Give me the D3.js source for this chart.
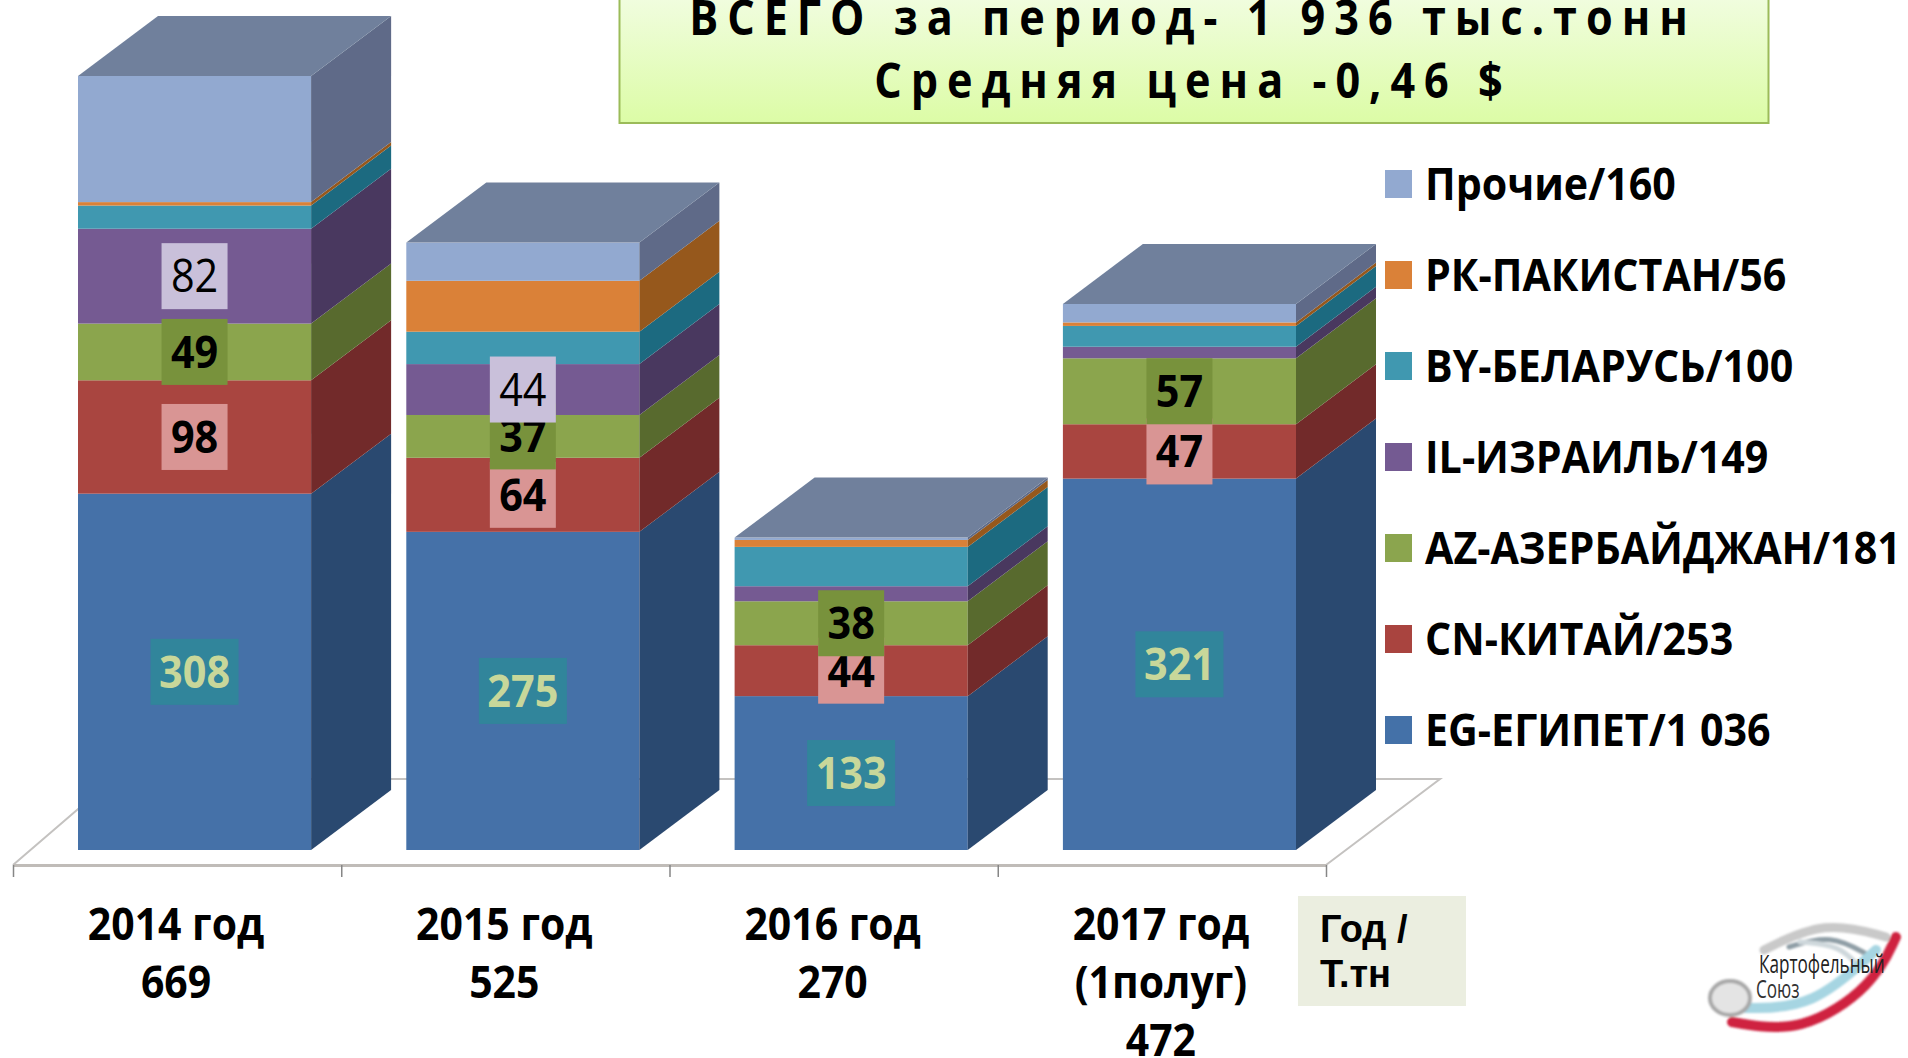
<!DOCTYPE html>
<html>
<head>
<meta charset="utf-8">
<script src="https://cdn.jsdelivr.net/npm/d3@7"></script>
<style>
html, body { margin: 0; padding: 0; background: #fff; overflow: hidden; }
svg { display: block; }
text { font-family: "Open Sans", sans-serif; font-weight: 700; fill: #000; }
</style>
</head>
<body>
<div id="viz"></div>
<script>
let years = ["2014", "2015", "2016", "2017"];
let yearLabels = [
	["2014 год", "669"],
	["2015 год", "525"],
	["2016 год", "270"],
	["2017 год", "(1полуг)", "472"]
];
let seriesNames = ["EG", "CN", "AZ", "IL", "BY", "PK", "OTHER"];
let legendLabels = ["EG-ЕГИПЕТ/1 036", "CN-КИТАЙ/253", "AZ-АЗЕРБАЙДЖАН/181", "IL-ИЗРАИЛЬ/149", "BY-БЕЛАРУСЬ/100", "РК-ПАКИСТАН/56", "Прочие/160"];
let valEG = [308, 275, 133, 321];
let valCN = [98, 64, 44, 47];
let valAZ = [49, 37, 38, 57];
let valIL = [82, 44, 13, 10];
let valBY = [20, 28, 34, 18];
let valPK = [3, 44, 6, 3];
let valOther = [109, 33, 2, 16];
let labelledSeries = ["EG", "CN", "AZ", "IL"];
let titleLines = ["ВСЕГО за период- 1 936 тыс.тонн", "Средняя цена -0,46 $"];
let unitLines = ["Год /", "Т.тн"];

let frontColor = {EG: "#4471a8", CN: "#a9443f", AZ: "#8ba54e", IL: "#745a92", BY: "#4098b0", PK: "#da8138", OTHER: "#92a9d0"};
let sideColor = {EG: "#2c486f", CN: "#722b29", AZ: "#586b2f", IL: "#49375f", BY: "#1f6a80", PK: "#96591f", OTHER: "#5e6b88"};
let boxColor = {EG: "#31859b", CN: "#d99594", AZ: "#78923c", IL: "#c9c0da"};
let boxText = {EG: "#c8d79a", CN: "#000", AZ: "#000", IL: "#000"};

let rows = years.map((y, i) => ({year: y, EG: valEG[i], CN: valCN[i], AZ: valAZ[i], IL: valIL[i], BY: valBY[i], PK: valPK[i], OTHER: valOther[i]}));
let stacked = d3.stack().keys(seriesNames)(rows);

let svg = d3.select("#viz").append("svg").attr("width", 1908).attr("height", 1058);

let defs = svg.append("defs");
let soft = defs.append("filter").attr("id", "soft");
soft.append("feGaussianBlur").attr("stdDeviation", 0.7);
let softer = defs.append("filter").attr("id", "softer");
softer.append("feGaussianBlur").attr("stdDeviation", 1.2);
let grad = defs.append("linearGradient").attr("id", "titleFill").attr("x1", 0).attr("y1", 0).attr("x2", 0).attr("y2", 1);
grad.append("stop").attr("offset", 0).attr("stop-color", "#f1fde0");
grad.append("stop").attr("offset", 1).attr("stop-color", "#dcfca6");

// COMMON
let depthX = 80;
let depthY = 60;
let x = d3.scaleBand().domain(years).range([78, 1296]).paddingInner(0.29);
let y = d3.scaleLinear().domain([0, 669]).range([850, 76]);
let squeeze = 0.92;

function putText(parent, px, py, str, size, anchor, sx, color) {
	return parent.append("text")
		.attr("transform", "translate(" + px + "," + py + ") scale(" + sx + ",1)")
		.attr("text-anchor", anchor)
		.style("font-size", size + "px")
		.style("fill", color || "#000")
		.text(str);
}

// FLOOR
let axisScale = d3.scaleLinear().domain([0, 4]).range([13, 1326]);
let floor = svg.append("g");
floor.append("path")
	.attr("d", "M13,865 L113,779 L1440,779 L1326,865")
	.attr("fill", "none")
	.attr("stroke", "#c4c2c0")
	.attr("stroke-width", 2);

let axis = d3.axisBottom(axisScale).tickValues(d3.range(0, 5)).tickSize(12).tickSizeOuter(0).tickFormat("");
let axisG = svg.append("g").attr("transform", "translate(0,865)").call(axis);
axisG.select(".domain").attr("stroke", "#c0bcb8").attr("stroke-width", 3);
axisG.selectAll(".tick line").attr("stroke", "#868686").attr("stroke-width", 1.5);

// BARS
let bars = svg.append("g").attr("filter", "url(#soft)");
stacked.forEach(layer => {
	let key = layer.key;
	layer.forEach((d, i) => {
		let x0 = x(years[i]);
		let x1 = x0 + x.bandwidth();
		let yb = y(d[0]);
		let yt = y(d[1]);
		bars.append("rect")
			.attr("x", x0).attr("y", yt)
			.attr("width", x.bandwidth()).attr("height", yb - yt)
			.attr("fill", frontColor[key]);
		bars.append("path")
			.attr("d", d3.line()([[x1, yb], [x1 + depthX, yb - depthY], [x1 + depthX, yt - depthY], [x1, yt]]))
			.attr("fill", sideColor[key]);
	});
});
rows.forEach(r => {
	let x0 = x(r.year);
	let x1 = x0 + x.bandwidth();
	let yt = y(d3.sum(seriesNames, k => r[k]));
	bars.append("path")
		.attr("d", d3.line()([[x0, yt], [x0 + depthX, yt - depthY], [x1 + depthX, yt - depthY], [x1, yt]]))
		.attr("fill", "#70809c");
});

// VALUE LABELS
let boxes = svg.append("g");
stacked.filter(l => labelledSeries.includes(l.key)).forEach(layer => {
	layer.forEach((d, i) => {
		let val = d[1] - d[0];
		let cx = x(years[i]) + x.bandwidth() / 2;
		let cy = (y(d[0]) + y(d[1])) / 2;
		let w = val >= 100 ? 88 : 66;
		if (layer.key === "IL" && val < 40) return;
		boxes.append("rect")
			.attr("x", cx - w / 2).attr("y", cy - 33)
			.attr("width", w).attr("height", 66)
			.attr("fill", boxColor[layer.key]);
		let t = putText(boxes, cx, cy + 16, val, 45, "middle", squeeze, boxText[layer.key]);
		if (layer.key === "IL") t.style("font-weight", 400);
	});
});

// CATEGORY LABELS
yearLabels.forEach((lines, i) => {
	let cx = x(years[i]) + 98;
	lines.forEach((s, j) => putText(svg, cx, 940 + j * 58, s, 45, "middle", 0.91));
});

// TITLE
svg.append("rect")
	.attr("x", 619.5).attr("y", -5)
	.attr("width", 1149).attr("height", 128)
	.attr("fill", "url(#titleFill)")
	.attr("stroke", "#9bbb59")
	.attr("stroke-width", 2);
titleLines.forEach((s, j) => {
	putText(svg, 1193, 35 + j * 63, s, 48, "middle", 0.9)
		.style("letter-spacing", "10px");
});

// LEGEND
let legY = d3.scalePoint().domain(seriesNames).range([730, 184]);
seriesNames.forEach((k, i) => {
	svg.append("rect")
		.attr("x", 1385).attr("y", legY(k) - 14)
		.attr("width", 27).attr("height", 28)
		.attr("fill", frontColor[k]);
	putText(svg, 1425, legY(k) + 16, legendLabels[i], 45, "start", 0.915);
});

// UNIT BOX
svg.append("rect")
	.attr("x", 1298).attr("y", 896)
	.attr("width", 168).attr("height", 110)
	.attr("fill", "#ebeee0");
unitLines.forEach((s, j) => {
	putText(svg, 1320, 942 + j * 45, s, 38, "start", 1).style("font-family", "'Liberation Sans'");
});

// LOGO
let logoCurve = d3.line().curve(d3.curveBasis);
let logo = svg.append("g").attr("filter", "url(#softer)");
let logoBands = [
	{color: "#c9c9c9", width: 9, pts: [[1764, 950], [1825, 920], [1886, 937]]},
	{color: "#8f9ea6", width: 5, pts: [[1789, 947], [1831, 934], [1868, 955]]},
	{color: "#cfd8dc", width: 5, pts: [[1800, 942], [1840, 945], [1860, 968]]},
	{color: "#a6d5e2", width: 10, pts: [[1745, 1008], [1813, 1008], [1876, 950]]},
	{color: "#cf2340", width: 10, pts: [[1732, 1022], [1801, 1034], [1874, 985], [1896, 937]]}
];
logoBands.forEach(b => {
	logo.append("path")
		.attr("d", logoCurve(b.pts))
		.attr("fill", "none")
		.attr("stroke", b.color)
		.attr("stroke-width", b.width)
		.attr("stroke-linecap", "round");
});
logo.append("ellipse").attr("cx", 1730).attr("cy", 998).attr("rx", 20).attr("ry", 17)
	.attr("fill", "#e4e4e4").attr("stroke", "#a8a8a8").attr("stroke-width", 4);
putText(svg, 1759, 973, "Картофельный", 26, "start", 0.66, "#222").style("font-weight", 400);
putText(svg, 1756, 998, "Союз", 26, "start", 0.66, "#333").style("font-weight", 400);
</script>
</body>
</html>
